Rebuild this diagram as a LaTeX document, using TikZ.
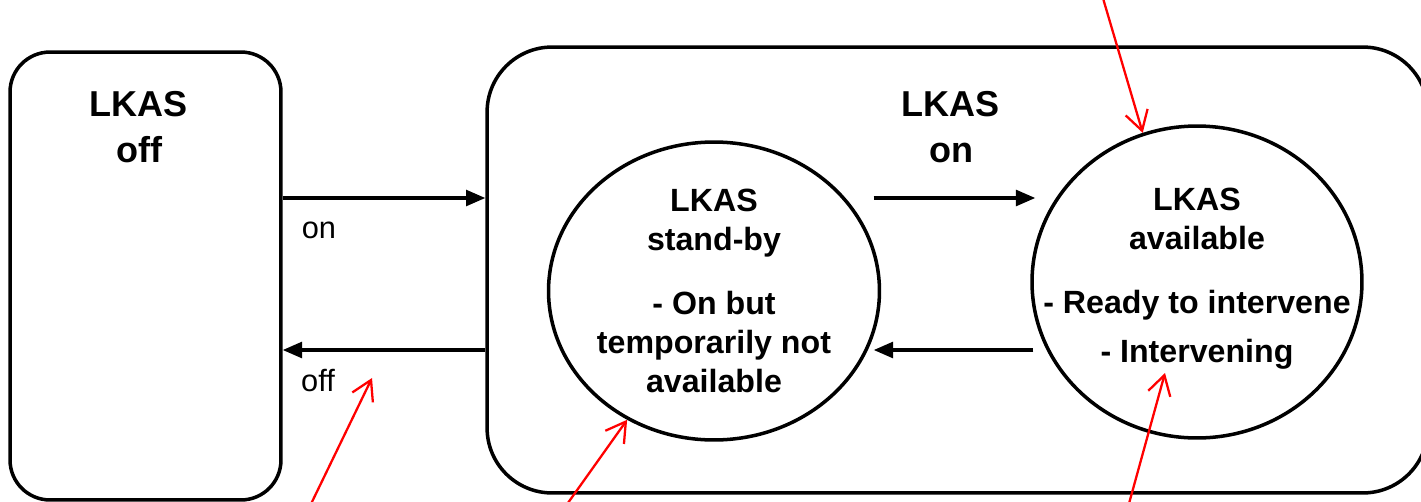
\documentclass[tikz,border=0pt]{standalone}
\usepackage{fontspec}
\setmainfont{Liberation Sans}
\usetikzlibrary{arrows.meta,shapes.geometric}

\tikzset{
  mode/.style={draw,line width=2pt,rounded corners=#1,inner sep=0pt},
  modetitle/.style={align=center,font=\fontsize{20.5}{26.6}\selectfont\bfseries},
  state/.style={draw,ellipse,line width=2pt,inner sep=0pt},
  statetext/.style={align=center,font=\fontsize{18.3}{22.2}\selectfont\bfseries},
  switch/.style={font=\fontsize{17.5}{20}\selectfont},
  flow/.style={line width=1.8pt,-{Triangle[length=11pt,width=9pt]}},
  note/.style={red,line width=1.3pt,-{Straight Barb[length=11pt,width=13pt]}}
}

\begin{document}
\begin{tikzpicture}[x=0.02cm,y=-0.02cm]
  \useasboundingbox (0,0) rectangle (1421,501);

  \node[mode=0.8cm,minimum width=5.42cm,minimum height=8.96cm] (offbox) at (145.5,276) {};
  \node[mode=1.3cm,minimum width=18.82cm,minimum height=8.92cm] (onbox) at (957.5,270) {};
  \node[modetitle] (offtitle) at (139,127) {LKAS\\off};
  \node[modetitle] (ontitle) at (951,127) {LKAS\\on};

  \node[state,minimum width=6.62cm,minimum height=5.96cm] (standby) at (714,291) {};
  \node[state,minimum width=6.6cm,minimum height=6.24cm] (avail) at (1197,282) {};
  \node[statetext] (standbytext) at (standby.center)
    {LKAS\\stand-by\\[0.5cm]- On but\\temporarily not\\available};
  \node[statetext] (availtext) at ([yshift=0.06cm]avail.center)
    {LKAS\\available\\[0.5cm]- Ready to intervene\\[0.2cm]- Intervening};

  \coordinate (toprow) at (0,198);
  \coordinate (botrow) at (0,350);
  \draw[flow] (offbox.east |- toprow) -- (onbox.west |- toprow);
  \draw[flow] (onbox.west |- botrow) -- (offbox.east |- botrow);
  \draw[flow,shorten <=-0.15cm,shorten >=-0.1cm] (standby.east |- toprow) -- (avail.west |- toprow);
  \draw[flow,shorten <=-0.06cm,shorten >=-0.15cm] (avail.west |- botrow) -- (standby.east |- botrow);

  \node[switch] (onlabel) at (319,230) {on};
  \node[switch] (offlabel) at (318,381) {off};

  \coordinate (noteA) at (1103.5,0);
  \coordinate (noteB) at (310.5,505);
  \coordinate (noteBtip) at (372,378);
  \coordinate (noteC) at (566.5,505);
  \coordinate (noteD) at (1128.6,505);
  \coordinate (noteDtip) at (1165,373);
  \draw[note] (noteA) -- (avail.110);
  \draw[note] (noteB) -- (noteBtip);
  \draw[note] (noteC) -- (standby.236);
  \draw[note] (noteD) -- (noteDtip);
\end{tikzpicture}
\end{document}
